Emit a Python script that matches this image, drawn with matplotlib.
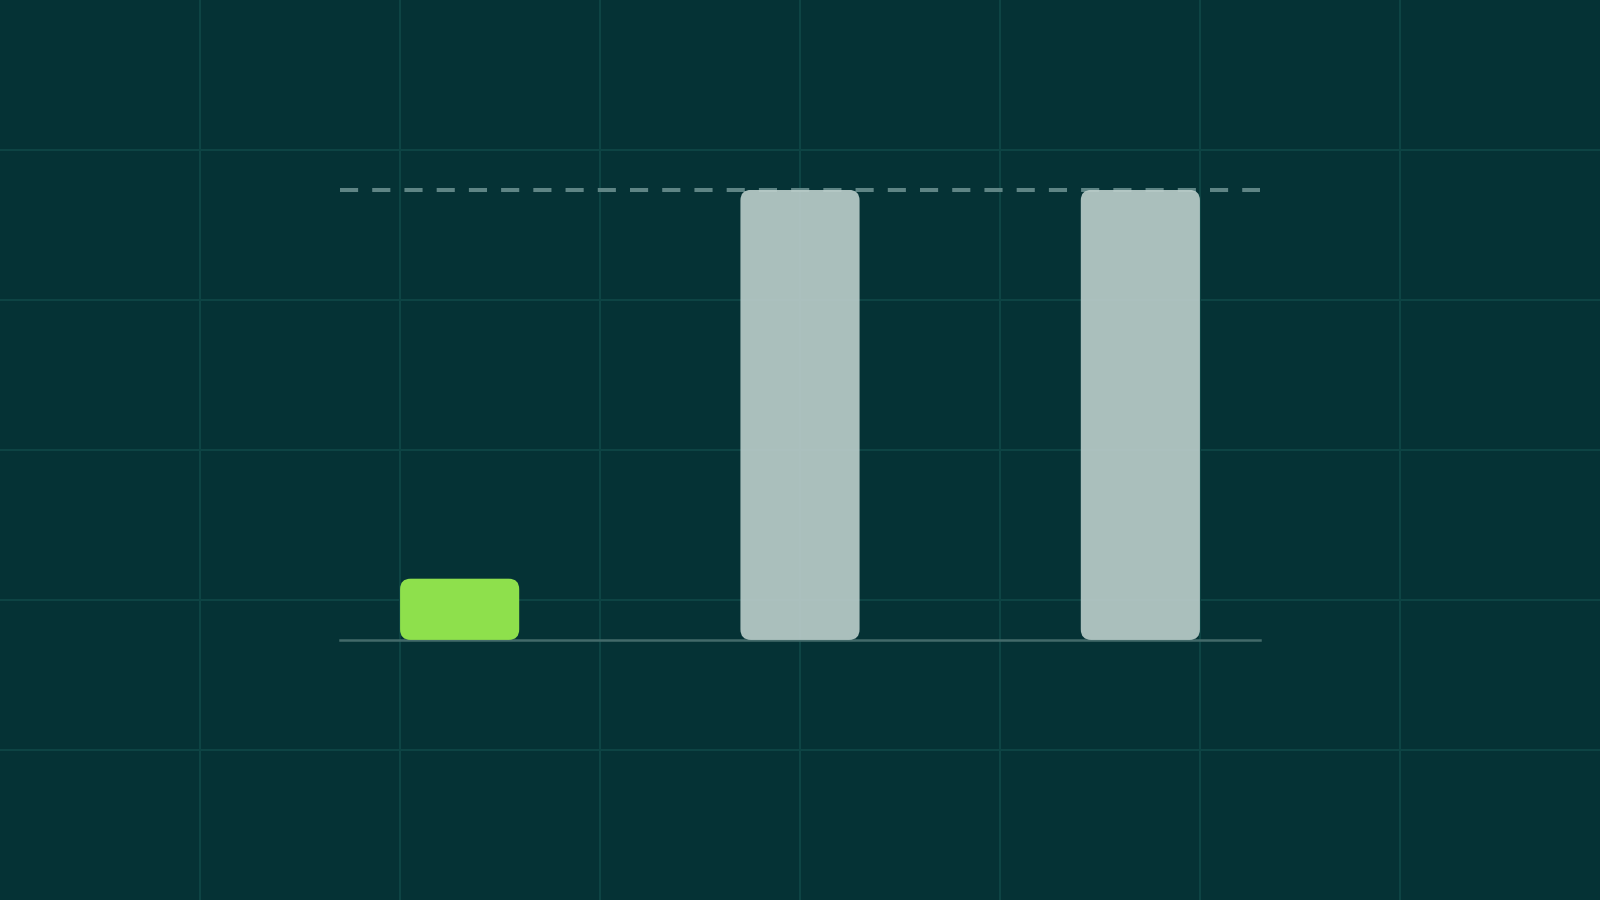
import matplotlib
matplotlib.use('Agg')
import matplotlib.pyplot as plt
from matplotlib.patches import FancyBboxPatch

# bar values (relative)
categories = ['A', 'B', 'C']
values = [13.6, 100, 100]
bar_colors = ['#8ee04c', '#bdcfcc', '#bdcfcc']
bar_alphas = [1.0, 0.9, 0.9]
target = 100

BG = '#053235'
GRID = '#0e4545'


def main():
    fig = plt.figure(figsize=(16, 9), dpi=100)
    fig.patch.set_facecolor(BG)

    # background grid over the whole canvas
    bg = fig.add_axes([0, 0, 1, 1])
    bg.set_facecolor(BG)
    bg.set_xlim(0, 1600)
    bg.set_ylim(900, 0)
    for x in range(200, 1600, 200):
        bg.axvline(x, color=GRID, lw=1.4, zorder=0)
    for y in range(150, 900, 150):
        bg.axhline(y, color=GRID, lw=1.4, zorder=0)
    bg.axis('off')

    ax = fig.add_axes([0.2124, 0.289, 0.5752, 0.5])
    ax.patch.set_alpha(0)
    width = 0.35
    ax.set_xlim(-0.352, len(values) - 1 + 0.352)
    ax.set_ylim(0, target)

    xs = range(len(values))
    bars = ax.bar(xs, values, width=width, color='none')

    # rounded corners: pixel radius converted to data units
    ax_w_px = 0.5752 * 1600
    ax_h_px = 0.5 * 900
    x_per_px = (ax.get_xlim()[1] - ax.get_xlim()[0]) / ax_w_px
    y_per_px = (ax.get_ylim()[1] - ax.get_ylim()[0]) / ax_h_px
    aspect = y_per_px / x_per_px
    radius = 10.5 * x_per_px
    for rect, col, a in zip(bars, bar_colors, bar_alphas):
        x0, y0 = rect.get_x(), rect.get_y()
        w, h = rect.get_width(), rect.get_height()
        patch = FancyBboxPatch((x0 + radius, y0 + radius * aspect),
                               w - 2 * radius, h - 2 * radius * aspect,
                               boxstyle='round,pad=%f' % radius,
                               mutation_aspect=aspect,
                               facecolor=col, edgecolor='none', alpha=a, zorder=3)
        ax.add_patch(patch)
        rect.remove()

    ax.axhline(target, color='#5f8585', lw=2.9, dashes=(4.5, 3.5), zorder=2, clip_on=False)
    ax.axhline(0, color='#436a6a', lw=1.8, zorder=1, clip_on=False)

    ax.axis('off')
    fig.savefig('out.png', dpi=100, facecolor=BG)


if __name__ == '__main__':
    main()
